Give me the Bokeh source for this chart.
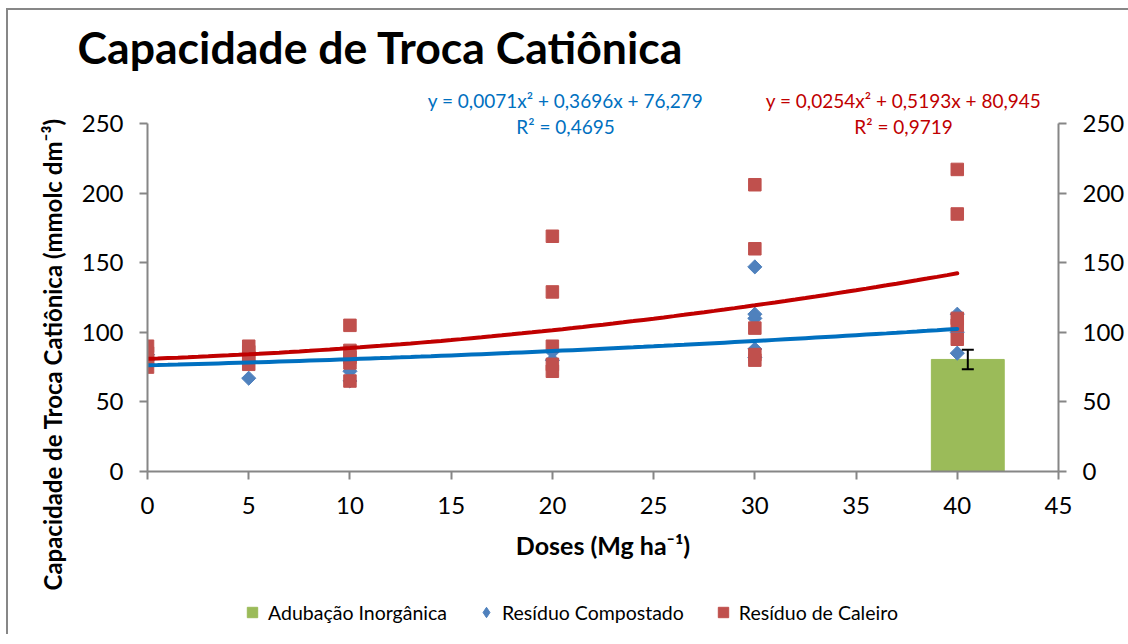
import numpy as np
from bokeh.plotting import figure
from bokeh.layouts import column
from bokeh.models import (Range1d, LinearAxis, FixedTicker, Label, Legend, LegendItem,
                          Whisker, TeeHead, ColumnDataSource, Title)
from bokeh.embed import file_html
from bokeh.resources import INLINE

# ---------------- data ----------------
x_ticks = [0, 5, 10, 15, 20, 25, 30, 35, 40, 45]
y_ticks = [0, 50, 100, 150, 200, 250]

dose_caleiro = [0, 0, 0, 0, 5, 5, 5, 5, 10, 10, 10, 10, 10,
                20, 20, 20, 20, 20, 30, 30, 30, 30, 30, 40, 40, 40, 40, 40]
ctc_caleiro = [75, 80, 85, 90, 77, 82, 86, 90, 65, 78, 82, 87, 105,
               72, 77, 90, 129, 169, 80, 84, 103, 160, 206, 95, 105, 110, 185, 217]

dose_compostado = [0, 0, 0, 5, 5, 5, 10, 10, 10, 20, 20, 30, 30, 30, 30, 30, 40, 40, 40]
ctc_compostado = [77, 80, 84, 67, 79, 84, 65, 72, 80, 80, 86, 82, 88, 110, 113, 147, 85, 100, 113]

bar_dose = [40]
bar_value = [80.5]
bar_error = [7.0]

coef_compostado = [0.0071, 0.3696, 76.279]
coef_caleiro = [0.0254, 0.5193, 80.945]
trend_range = [0, 40]

series_names = ["Adubação Inorgânica", "Resíduo Compostado", "Resíduo de Caleiro"]
eq_compostado = "y = 0,0071x² + 0,3696x + 76,279"
r2_compostado = "R² = 0,4695"
eq_caleiro = "y = 0,0254x² + 0,5193x + 80,945"
r2_caleiro = "R² = 0,9719"

FONT = "Lato"
GRAY = "#868686"
C_BAR, C_COMP, C_CAL = "#9BBB59", "#4F81BD", "#C0504D"

# ---------------- geometry (page px) ----------------
OX, OY = 8, 10                 # canvas origin on the page
FL, FR, FB = 147, 1058, 471    # frame left / right / bottom
Y250 = 123                     # pixel of y = 250
FT = 78                        # frame top (extends above 250 to hold the equations)
W, H = 1120, 582
HF = 42                        # footer (legend) height
ppu_y = (FB - Y250) / 250.0
ppu_x = (FR - FL) / 45.0

def fx(px):
    return (px - FL) / ppu_x

def fy(py):
    return (FB - py) / ppu_y

p = figure(width=W, height=H, output_backend="svg", toolbar_location=None,
           x_range=Range1d(0, 45), y_range=Range1d(0, fy(FT)),
           min_border_left=FL - OX, min_border_right=OX + W - FR,
           min_border_top=FT - OY, min_border_bottom=OY + H - FB)
p.outline_line_color = None
p.xgrid.visible = False
p.ygrid.visible = False
p.background_fill_color = "white"

# title
p.title.text = "Capacidade de Troca Catiônica"
p.title.align = "left"
p.title.offset = 77 - FL
p.title.text_font = FONT
p.title.text_font_style = "bold"
p.title.text_font_size = "44.6px"
p.title.text_color = "black"
p.title.standoff = 11

# bar (inorganic fertilisation) with error bar
bar_x = [d + 0.52 for d in bar_dose]
bar_src = ColumnDataSource(dict(x=bar_x, top=bar_value,
                                upper=[v + e for v, e in zip(bar_value, bar_error)],
                                lower=[v - e for v, e in zip(bar_value, bar_error)]))
p.vbar(x="x", top="top", bottom=0, width=3.6, source=bar_src,
       fill_color=C_BAR, line_color=C_BAR)

p.scatter(dose_compostado, ctc_compostado, marker="square", angle=np.pi / 4,
          size=10, fill_color=C_COMP, line_color=C_COMP)
p.scatter(dose_caleiro, ctc_caleiro, marker="square", size=12.5,
          fill_color=C_CAL, line_color=C_CAL)

whisk = Whisker(base="x", upper="upper", lower="lower", source=bar_src,
                line_color="black", line_width=2, level="overlay",
                upper_head=TeeHead(size=12, line_color="black", line_width=2),
                lower_head=TeeHead(size=12, line_color="black", line_width=2))
p.add_layout(whisk)

# trend lines from the displayed equations
xs = np.linspace(trend_range[0], trend_range[1], 81)
p.line(xs, np.polyval(coef_compostado, xs), line_color="#0070C0", line_width=4, line_cap="round")
p.line(xs, np.polyval(coef_caleiro, xs), line_color="#C00000", line_width=4, line_cap="round")

# ---------------- axes ----------------
def style_axis(ax, standoff):
    ax.axis_line_color = GRAY
    ax.axis_line_width = 2
    ax.major_tick_line_color = GRAY
    ax.major_tick_line_width = 2
    ax.major_tick_out = 8
    ax.major_tick_in = 0
    ax.minor_tick_line_color = None
    ax.major_label_text_font = FONT
    ax.major_label_text_font_size = "24px"
    ax.major_label_text_color = "black"
    ax.major_label_standoff = standoff

p.xaxis.ticker = FixedTicker(ticks=x_ticks)
p.yaxis.ticker = FixedTicker(ticks=y_ticks)
p.yaxis.bounds = (0, 250)
style_axis(p.xaxis[0], 17)
style_axis(p.yaxis[0], 16)
right = LinearAxis(ticker=FixedTicker(ticks=y_ticks), bounds=(0, 250))
style_axis(right, 16)
p.add_layout(right, "right")

p.xaxis.axis_label = "Doses (Mg ha⁻¹)"
p.xaxis.axis_label_text_font = FONT
p.xaxis.axis_label_text_font_style = "bold"
p.xaxis.axis_label_text_font_size = "25px"
p.xaxis.axis_label_text_color = "black"
p.xaxis.axis_label_standoff = 13

# y axis title; starts below the frame bottom as in the reference
ytitle = Title(text="Capacidade de Troca Catiônica (mmolc dm⁻³)", align="left",
               offset=FB - 590, standoff=23,
               text_font=FONT, text_font_style="bold", text_font_size="24px",
               text_color="black")
p.add_layout(ytitle, "left")

# ---------------- equations ----------------
for txt, cx, by, col in [(eq_compostado, 565, 99.5, "#0070C0"),
                         (r2_compostado, 565, 126, "#0070C0"),
                         (eq_caleiro, 903, 99.5, "#C00000"),
                         (r2_caleiro, 903, 126, "#C00000")]:
    p.add_layout(Label(x=fx(cx), y=fy(by), text=txt, text_font=FONT,
                       text_font_size="19px", text_align="center",
                       text_baseline="alphabetic", text_color=col))

# ---------------- legend (footer strip; its frame aligns with the chart frame) ----------------
f = figure(width=W, height=HF, output_backend="svg", toolbar_location=None,
           x_range=Range1d(0, 1), y_range=Range1d(0, 1),
           x_axis_location=None, y_axis_location=None,
           min_border_left=0, min_border_right=0, min_border_top=0, min_border_bottom=0)
f.outline_line_color = None
f.xgrid.visible = False
f.ygrid.visible = False
nan = [float("nan")]
g_bar = f.scatter(nan, nan, marker="square", size=11, fill_color=C_BAR, line_color=C_BAR)
g_comp = f.scatter(nan, nan, marker="diamond", size=12,
                   fill_color=C_COMP, line_color=C_COMP)
g_cal = f.scatter(nan, nan, marker="square", size=12.5, fill_color=C_CAL, line_color=C_CAL)
legend = Legend(items=[LegendItem(label=series_names[0], renderers=[g_bar]),
                       LegendItem(label=series_names[1], renderers=[g_comp]),
                       LegendItem(label=series_names[2], renderers=[g_cal])],
                orientation="horizontal", location=(239 - FL, 7),
                label_text_font=FONT, label_text_font_size="19.5px", label_text_color="black",
                spacing=26, glyph_width=26, glyph_height=30, label_standoff=3,
                padding=0, margin=0, border_line_color=None, background_fill_alpha=0)
f.add_layout(legend)

root = column(p, f, spacing=0,
              styles={"border-left": "2px solid #878787", "border-top": "2px solid #878787",
                      "margin-left": "6px", "margin-top": "8px"})

open("out.html", "w").write(file_html(root, INLINE))
